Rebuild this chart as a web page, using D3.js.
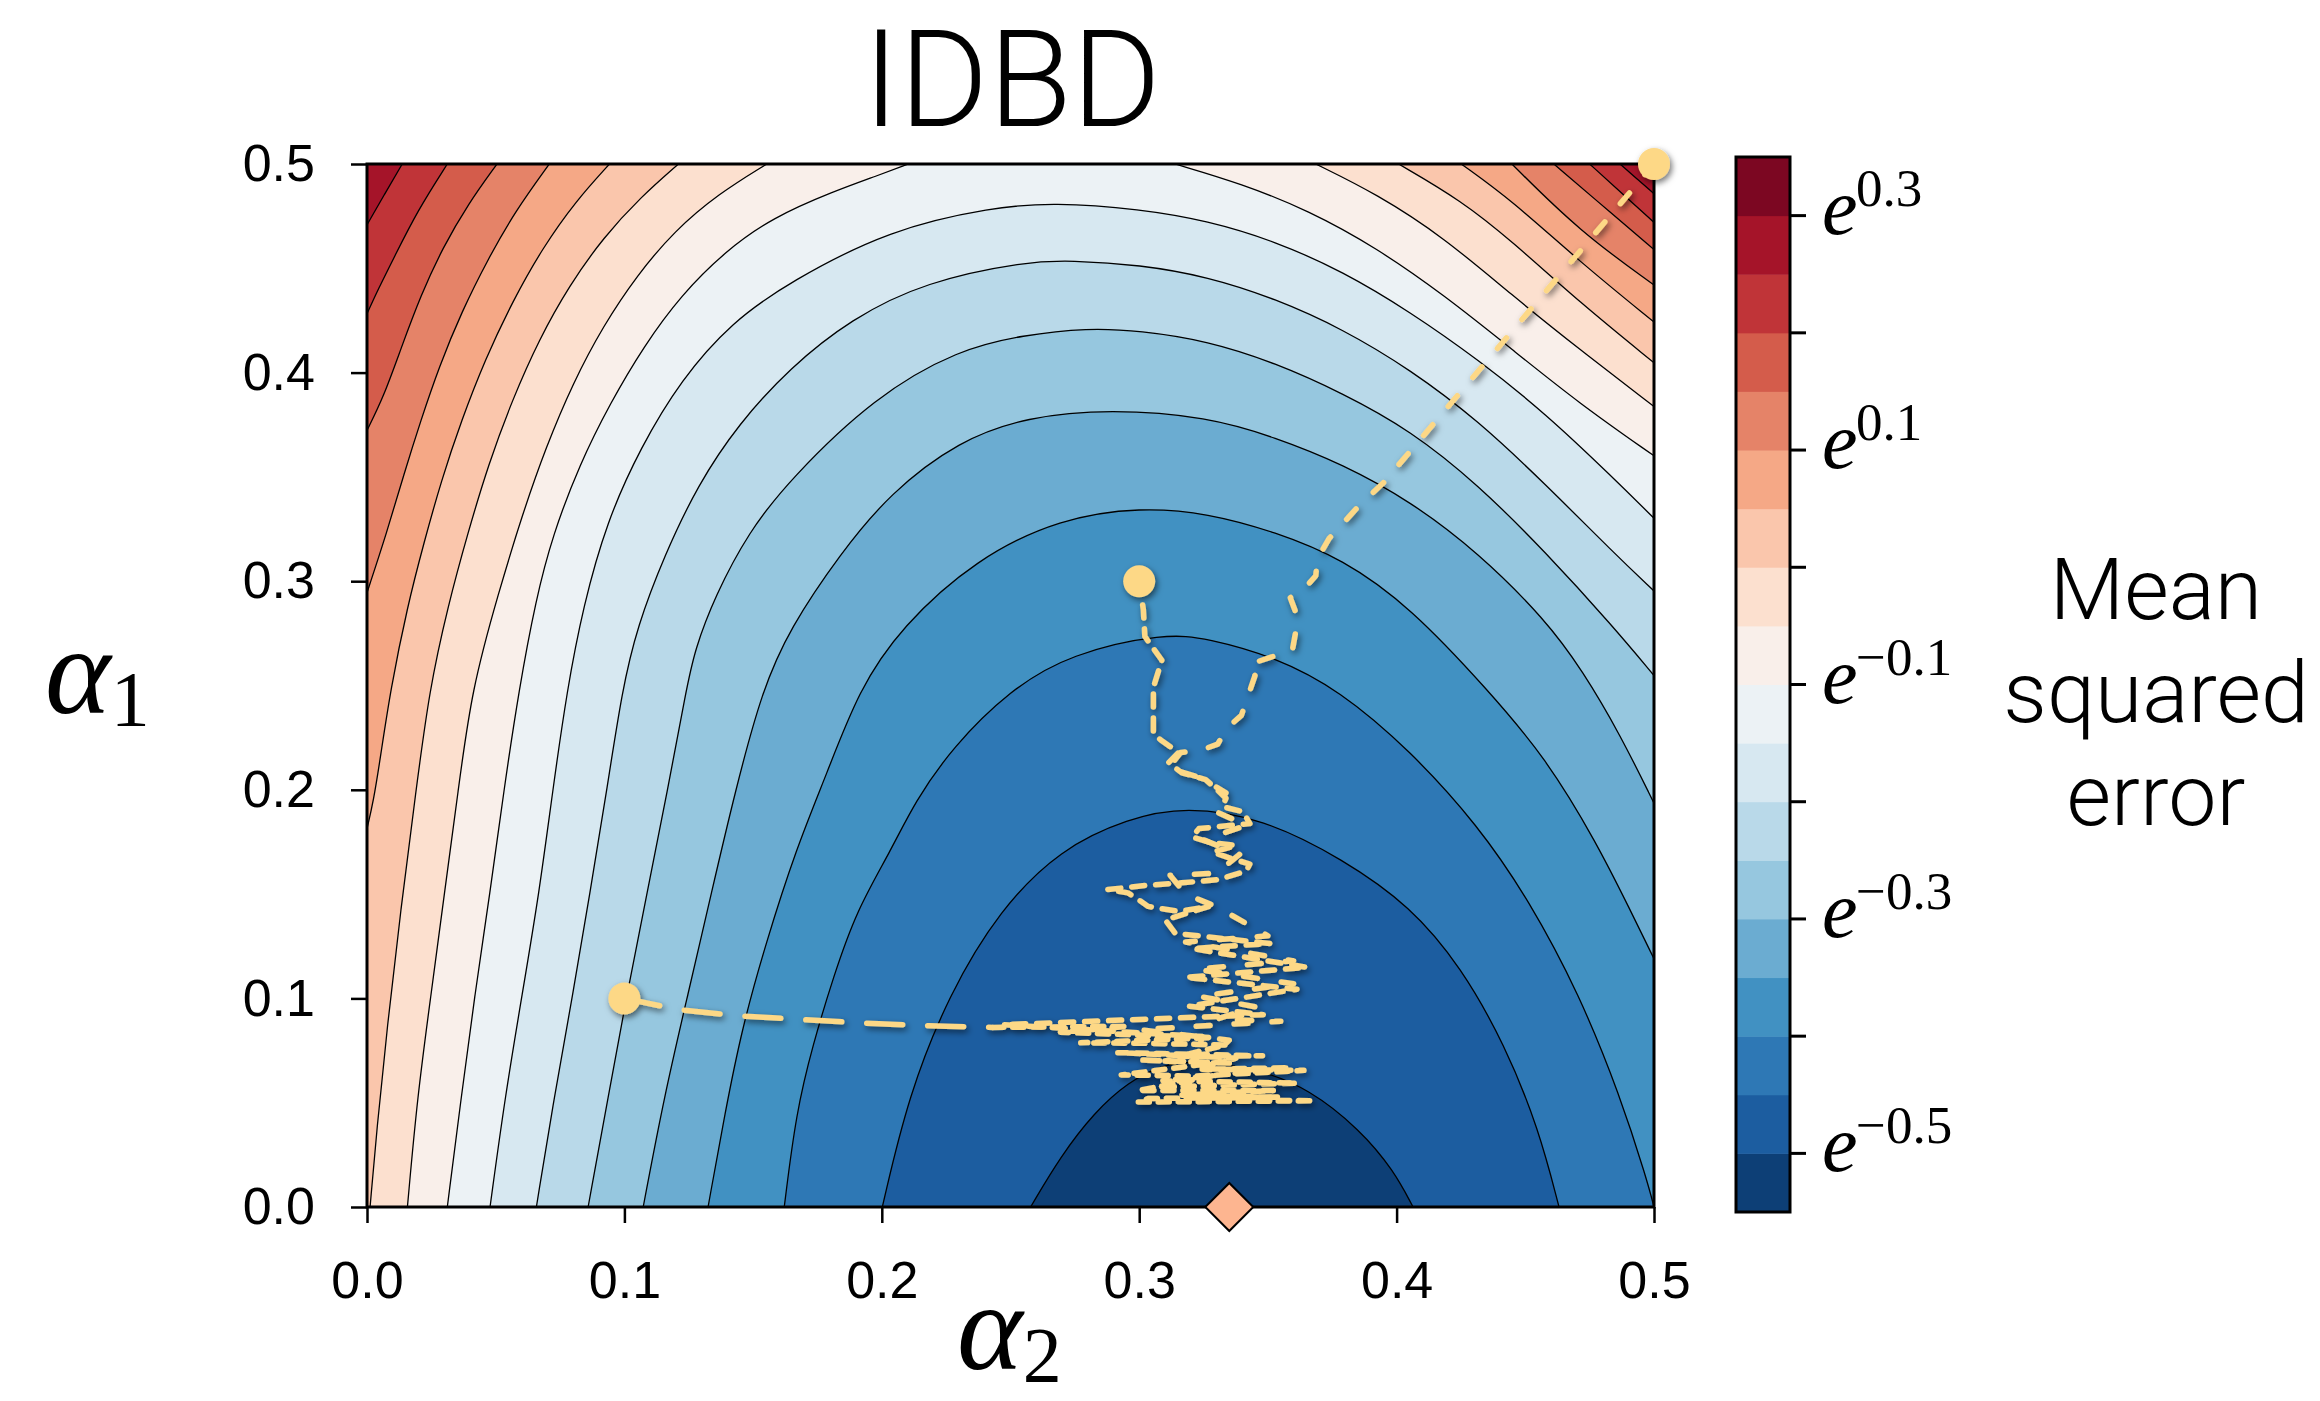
<!DOCTYPE html>
<html lang="en"><head>
<meta charset="utf-8">
<title>IDBD</title>
<script src="https://cdn.jsdelivr.net/npm/d3@7"></script>
<style>
  body { margin: 0; background: #fff; }
</style>
</head>
<body>
<script>
// ---- data: axes ----
var alphaTicks = [0, 0.1, 0.2, 0.3, 0.4, 0.5];

// ---- data: colour levels of the filled contour (log of MSE) ----
var bandEdges = [-0.55, -0.5, -0.45, -0.4, -0.35, -0.3, -0.25, -0.2, -0.15, -0.1,
                 -0.05, 0, 0.05, 0.1, 0.15, 0.2, 0.25, 0.3, 0.35];
var cbarTicks = [-0.5, -0.4, -0.3, -0.2, -0.1, 0, 0.1, 0.2, 0.3];
var cbarLabelled = [-0.5, -0.3, -0.1, 0.1, 0.3];

// ---- data: contour lines, [alpha2, alpha1] ----
var lvl025Left  = [[0,0.4708],[0.0068,0.4855],[0.0137,0.5]];
var lvl025Right = [[0.4868,0.5],[0.4935,0.4928],[0.5,0.4857]];
var lvl020Left  = [[0,0.4282],[0.0045,0.4404],[0.0104,0.4549],[0.0196,0.4776],[0.0312,0.5]];
var lvl020Right = [[0.475,0.5],[0.4875,0.486],[0.5,0.472]];
var lvl015Left  = [[0,0.3723],[0.0065,0.3885],[0.0131,0.4112],[0.0209,0.4371],[0.0294,0.4598],[0.0393,0.4809],[0.0505,0.5]];
var lvl015Right = [[0.4611,0.5],[0.4841,0.4757],[0.5,0.459]];
var lvl010Left  = [[0,0.2945],[0.0078,0.3237],[0.0143,0.3512],[0.0209,0.3771],[0.0281,0.4031],[0.0367,0.429],[0.0472,0.4549],[0.0577,0.4776],[0.0708,0.5]];
var lvl010Right = [[0.4448,0.5],[0.471,0.4678],[0.5,0.442]];
var lvl005Left  = [[0,0.1814],[0.0025,0.1944],[0.0052,0.2154],[0.0091,0.2478],[0.0157,0.288],[0.0222,0.3188],[0.0288,0.348],[0.0367,0.3771],[0.0459,0.4063],[0.0564,0.4338],[0.0682,0.4598],[0.0813,0.4825],[0.0942,0.5]];
var lvl005Right = [[0.4251,0.5],[0.4448,0.4825],[0.471,0.4533],[0.5,0.4242]];
var lvl000Left  = [[0.0012,0],[0.0038,0.0372],[0.0078,0.0858],[0.0131,0.1425],[0.019,0.1992],[0.0242,0.2478],[0.0314,0.288],[0.0393,0.3237],[0.0472,0.3561],[0.0564,0.3868],[0.0669,0.4161],[0.0787,0.442],[0.0918,0.4647],[0.1063,0.4841],[0.121,0.5]];
var lvl000Right = [[0.4008,0.5],[0.4251,0.4825],[0.4448,0.463],[0.471,0.4338],[0.5,0.4047]];
var lvlM005Left  = [[0.0157,0],[0.0196,0.0534],[0.0249,0.102],[0.0301,0.1506],[0.0354,0.1992],[0.0406,0.2478],[0.0511,0.2945],[0.0603,0.3318],[0.0695,0.3642],[0.08,0.395],[0.0918,0.4225],[0.105,0.4468],[0.1194,0.4679],[0.1365,0.4857],[0.1553,0.5]];
var lvlM005Right = [[0.3686,0.5],[0.3922,0.4857],[0.4185,0.4647],[0.4448,0.4371],[0.471,0.4112],[0.5,0.3837]];
var lvlM010Left  = [[0.0312,0],[0.0367,0.0534],[0.0419,0.102],[0.0478,0.1506],[0.0531,0.1992],[0.059,0.2478],[0.0656,0.2913],[0.0721,0.322],[0.0826,0.3561],[0.0944,0.3852],[0.1076,0.4128],[0.122,0.4371],[0.1391,0.4581],[0.1575,0.4743],[0.1811,0.4868],[0.1985,0.4945],[0.2103,0.5]];
var lvlM010Right = [[0.314,0.5],[0.3397,0.4906],[0.366,0.4776],[0.3922,0.4598],[0.4185,0.4371],[0.4448,0.4112],[0.471,0.3852],[0.5,0.3601]];
var lvlM015 = [[0.0478,0],[0.0537,0.0534],[0.0603,0.102],[0.0669,0.1506],[0.0721,0.1992],[0.0777,0.2478],[0.084,0.288],[0.0931,0.3285],[0.1063,0.3642],[0.122,0.3966],[0.1417,0.4242],[0.1643,0.4436],[0.2032,0.4687],[0.2431,0.4792],[0.2667,0.4816],[0.3003,0.4784],[0.3266,0.4728],[0.3528,0.463],[0.3791,0.4485],[0.4054,0.429],[0.4316,0.4063],[0.4579,0.3804],[0.4841,0.3496],[0.5,0.3302]];
var lvlM020 = [[0.0658,0],[0.0728,0.0534],[0.08,0.102],[0.0866,0.1506],[0.0931,0.1992],[0.0991,0.2478],[0.105,0.2783],[0.1155,0.3123],[0.1286,0.3464],[0.1444,0.3755],[0.1643,0.4023],[0.188,0.4257],[0.2169,0.4436],[0.2563,0.4533],[0.2733,0.4538],[0.3003,0.4517],[0.3266,0.446],[0.3528,0.4355],[0.3791,0.4209],[0.4054,0.4014],[0.4316,0.3771],[0.4579,0.3464],[0.4841,0.3139],[0.5,0.2953]];
var lvlM025 = [[0.0859,0],[0.0938,0.0534],[0.101,0.102],[0.1088,0.1506],[0.1167,0.1992],[0.124,0.2478],[0.1273,0.267],[0.1352,0.2929],[0.1483,0.3237],[0.1643,0.3488],[0.1972,0.3885],[0.23,0.4112],[0.255,0.418],[0.2799,0.4214],[0.3003,0.4201],[0.3266,0.4152],[0.3528,0.4047],[0.3791,0.3901],[0.4054,0.3723],[0.4316,0.3464],[0.4579,0.3139],[0.4841,0.2783],[0.5,0.2548]];
var lvlM030 = [[0.1073,0],[0.1155,0.0534],[0.1247,0.102],[0.1338,0.1506],[0.143,0.1992],[0.1535,0.2478],[0.1643,0.2775],[0.1838,0.3131],[0.2032,0.3423],[0.23,0.3674],[0.2563,0.3788],[0.289,0.3825],[0.3266,0.3788],[0.3528,0.369],[0.3791,0.3561],[0.4054,0.3383],[0.4316,0.3139],[0.4579,0.2815],[0.4723,0.257],[0.4868,0.2266],[0.5,0.1936]];
var lvlM035 = [[0.1325,0],[0.1391,0.0453],[0.1457,0.0858],[0.1549,0.1263],[0.1667,0.1717],[0.1785,0.2073],[0.191,0.2478],[0.2077,0.2783],[0.2366,0.3107],[0.2694,0.3302],[0.3009,0.3355],[0.3266,0.3326],[0.3528,0.3237],[0.3791,0.3107],[0.4054,0.2875],[0.4355,0.2478],[0.4579,0.2154],[0.4776,0.1749],[0.4907,0.1425],[0.5,0.119]];
var lvlM040 = [[0.1621,0],[0.1667,0.0453],[0.1732,0.0777],[0.1811,0.1101],[0.1903,0.1425],[0.2032,0.1701],[0.2129,0.1944],[0.2274,0.2203],[0.2497,0.2478],[0.2733,0.2653],[0.3101,0.2751],[0.3266,0.2726],[0.3528,0.2637],[0.3778,0.2478],[0.4054,0.2187],[0.4316,0.183],[0.4513,0.1474],[0.471,0.102],[0.4868,0.0534],[0.4973,0.0129],[0.5,0]];
var lvlM045 = [[0.2002,0],[0.2103,0.0534],[0.2261,0.102],[0.2458,0.1425],[0.2694,0.1717],[0.2957,0.1863],[0.318,0.192],[0.3482,0.1863],[0.3791,0.1668],[0.4054,0.1442],[0.4251,0.115],[0.4421,0.0777],[0.4553,0.0372],[0.4631,0]];
var lvlM050 = [[0.2578,0],[0.2694,0.0242],[0.2825,0.0453],[0.2957,0.0599],[0.3088,0.068],[0.3206,0.0704],[0.3463,0.0663],[0.366,0.0566],[0.3857,0.0372],[0.3988,0.0177],[0.4064,0]];

// ---- data: IDBD step-size trajectories, [alpha2, alpha1] ----
var startPoints = [[0.1,0.1],[0.3,0.3],[0.5,0.5]];
var optimum = [[0.335,0]];
var pathFrom01a = [[0.1,0.1],[0.1207,0.0947],[0.1439,0.0917],[0.1693,0.0898],[0.194,0.0881],[0.2182,0.0869],[0.2431,0.0861]];
var pathFrom01b = [[0.2431,0.0861],[0.2956,0.0866],[0.2694,0.0838],[0.3285,0.0812],[0.2773,0.0787],[0.3003,0.0785],[0.3337,0.0777],[0.3153,0.0722],[0.3479,0.0725],[0.2917,0.074],[0.3376,0.0714],[0.3337,0.0698],[0.293,0.0633],[0.3219,0.0628],[0.364,0.0655],[0.3245,0.066],[0.3585,0.0668],[0.3092,0.0605],[0.3612,0.0594],[0.3073,0.0574],[0.3337,0.0642],[0.2996,0.0558],[0.3521,0.0558],[0.3166,0.0536],[0.3542,0.0527],[0.3034,0.052],[0.2996,0.0503],[0.3679,0.0509],[0.3245,0.0517]];
var pathFrom03 = [[0.3,0.3],[0.3016,0.2864],[0.3022,0.2735],[0.3088,0.2621],[0.3055,0.2491],[0.3055,0.2268],[0.3088,0.2235],[0.3153,0.2179],[0.3114,0.213],[0.3166,0.2081],[0.3258,0.2049],[0.331,0.1992],[0.3337,0.196],[0.3324,0.1919],[0.3403,0.1895],[0.343,0.1838],[0.3232,0.1814],[0.3206,0.1774],[0.3271,0.1749],[0.3377,0.1733],[0.3285,0.1701],[0.3364,0.1668],[0.343,0.1644],[0.3416,0.1611],[0.331,0.157],[0.3166,0.1554],[0.3022,0.1541],[0.2878,0.1522],[0.2956,0.1506],[0.2996,0.1474],[0.3035,0.1441],[0.3153,0.1417],[0.3271,0.1441],[0.3101,0.1376],[0.314,0.1312],[0.3508,0.1263],[0.3206,0.1239],[0.3652,0.1149],[0.3179,0.1101],[0.3613,0.1044],[0.3193,0.0963],[0.3482,0.0922],[0.2471,0.0874],[0.3245,0.0817],[0.3219,0.0696],[0.3,0.0705],[0.335,0.069]];
var pathFrom05 = [[0.5,0.5],[0.3949,0.3472],[0.3857,0.3366],[0.3738,0.3205],[0.3692,0.3107],[0.3686,0.3026],[0.3646,0.297],[0.3587,0.2921],[0.3614,0.2832],[0.3607,0.2751],[0.3594,0.2662],[0.3515,0.2637],[0.3437,0.2605],[0.3423,0.2581],[0.345,0.2548],[0.3397,0.2357],[0.3338,0.2292],[0.3305,0.2219],[0.3233,0.2187],[0.3161,0.2179],[0.3114,0.2105],[0.3245,0.2055],[0.3337,0.1985],[0.329,0.19],[0.3416,0.183],[0.325,0.176],[0.339,0.169],[0.33,0.16],[0.312,0.159],[0.318,0.15],[0.33,0.144],[0.35,0.13],[0.318,0.127],[0.36,0.118],[0.322,0.114],[0.36,0.107],[0.323,0.101],[0.345,0.096],[0.33,0.09],[0.355,0.089],[0.3,0.085],[0.335,0.08],[0.33,0.074],[0.31,0.07],[0.33,0.068]];

// ---- styles ----
var brewerRdBu = ["#053061","#2166ac","#4393c3","#92c5de","#d1e5f0","#f7f7f7",
                  "#fddbc7","#f4a582","#d6604d","#b2182b","#67001f"];
var trajColor = "#fdd886";
var sansFont = "'Liberation Sans', Arimo, Helvetica, sans-serif";
var lightFont = "Roboto, 'Liberation Sans', sans-serif";
var mathFont = "'Liberation Serif', 'DejaVu Serif', serif";

var width = 2320, height = 1401;
var svg = d3.select("body").append("svg")
    .attr("width", width)
    .attr("height", height);

var x = d3.scaleLinear().domain([0, 0.5]).range([367, 1654]);
var y = d3.scaleLinear().domain([0, 0.5]).range([1207, 164]);

var cmap = d3.piecewise(d3.interpolateRgb, brewerRdBu);
var lo = bandEdges[0], hi = bandEdges[bandEdges.length - 1];
function bandColor(v) { return cmap((v - lo) / (hi - lo)); }

var defs = svg.append("defs");
defs.append("clipPath").attr("id", "plotClip")
  .append("rect")
    .attr("x", x(0)).attr("y", y(0.5))
    .attr("width", x(0.5) - x(0)).attr("height", y(0) - y(0.5));
var shadow = defs.append("filter").attr("id", "shadow")
    .attr("x", "-10%").attr("y", "-10%").attr("width", "120%").attr("height", "120%");
shadow.append("feDropShadow")
    .attr("dx", 2).attr("dy", 3).attr("stdDeviation", 3)
    .attr("flood-color", "#000").attr("flood-opacity", 0.55);

// contour table built from the arrays above
var contours = [
  {level: 0.25,  pieces: [lvl025Left, lvl025Right]},
  {level: 0.2,   pieces: [lvl020Left, lvl020Right]},
  {level: 0.15,  pieces: [lvl015Left, lvl015Right]},
  {level: 0.1,   pieces: [lvl010Left, lvl010Right]},
  {level: 0.05,  pieces: [lvl005Left, lvl005Right]},
  {level: 0,     pieces: [lvl000Left, lvl000Right]},
  {level: -0.05, pieces: [lvlM005Left, lvlM005Right]},
  {level: -0.1,  pieces: [lvlM010Left, lvlM010Right]},
  {level: -0.15, pieces: [lvlM015]},
  {level: -0.2,  pieces: [lvlM020]},
  {level: -0.25, pieces: [lvlM025]},
  {level: -0.3,  pieces: [lvlM030]},
  {level: -0.35, pieces: [lvlM035]},
  {level: -0.4,  pieces: [lvlM040]},
  {level: -0.45, pieces: [lvlM045]},
  {level: -0.5,  pieces: [lvlM050]}
];

var smooth = d3.line()
    .x(function(d) { return x(d[0]); })
    .y(function(d) { return y(d[1]); })
    .curve(d3.curveBasis);

var plot = svg.append("g").attr("clip-path", "url(#plotClip)");

// band above the highest line
plot.append("rect")
    .attr("x", x(0)).attr("y", y(0.5))
    .attr("width", x(0.5) - x(0)).attr("height", y(0) - y(0.5))
    .attr("fill", bandColor(0.275));

// each level: paint the region below it with the colour of the band under it
contours.forEach(function(c) {
  var d = smooth(c.pieces[0]);
  for (var k = 1; k < c.pieces.length; k++) d += smooth(c.pieces[k]).replace(/^M/, "L");
  var first = c.pieces[0][0];
  var lastPiece = c.pieces[c.pieces.length - 1];
  var last = lastPiece[lastPiece.length - 1];
  if (last[0] >= 0.5 && last[1] > 0) d += "L" + x(0.5) + "," + y(0);
  if (first[0] <= 0 && first[1] > 0) d += "L" + x(0) + "," + y(0);
  d += "Z";
  plot.append("path").attr("d", d).attr("fill", bandColor(c.level - 0.025));
});

contours.forEach(function(c) {
  c.pieces.forEach(function(p) {
    plot.append("path")
        .attr("d", smooth(p))
        .attr("fill", "none")
        .attr("stroke", "#000")
        .attr("stroke-width", 1.3);
  });
});

// frame
svg.append("rect")
    .attr("x", x(0)).attr("y", y(0.5))
    .attr("width", x(0.5) - x(0)).attr("height", y(0) - y(0.5))
    .attr("fill", "none").attr("stroke", "#000").attr("stroke-width", 3);

// axes
var fmt = d3.format(".1f");
var xAxis = svg.append("g")
    .attr("transform", "translate(0," + y(0) + ")")
    .call(d3.axisBottom(x).tickValues(alphaTicks).tickFormat(fmt).tickSize(16).tickPadding(38));
var yAxis = svg.append("g")
    .attr("transform", "translate(" + x(0) + ",0)")
    .call(d3.axisLeft(y).tickValues(alphaTicks).tickFormat(fmt).tickSize(16).tickPadding(36));
[xAxis, yAxis].forEach(function(g) {
  g.select(".domain").remove();
  g.selectAll(".tick line").attr("stroke", "#000").attr("stroke-width", 2.5);
  g.selectAll(".tick text")
      .attr("fill", "#000")
      .attr("font-family", sansFont)
      .attr("font-size", 52);
});

// trajectories
var straight = d3.line()
    .x(function(d) { return x(d[0]); })
    .y(function(d) { return y(d[1]); });
var traj = svg.append("g").attr("filter", "url(#shadow)");
var trajSpecs = [
  {pts: pathFrom01a, dash: "36,25"},
  {pts: pathFrom01b, dash: "11,9"},
  {pts: pathFrom03,  dash: "13,11"},
  {pts: pathFrom05,  dash: "14,24"}
];
trajSpecs.forEach(function(t) {
  traj.append("path")
      .attr("d", straight(t.pts))
      .attr("fill", "none")
      .attr("stroke", trajColor)
      .attr("stroke-width", 5.5)
      .attr("stroke-linecap", "round")
      .attr("stroke-linejoin", "round")
      .attr("stroke-dasharray", t.dash);
});
traj.selectAll("circle")
    .data(startPoints)
    .enter().append("circle")
    .attr("cx", function(d) { return x(d[0]); })
    .attr("cy", function(d) { return y(d[1]); })
    .attr("r", 16)
    .attr("fill", trajColor);

// optimum marker
svg.selectAll(".opt")
    .data(optimum)
    .enter().append("path")
    .attr("class", "opt")
    .attr("d", d3.symbol(d3.symbolSquare, 1150))
    .attr("transform", function(d) { return "translate(" + x(d[0]) + "," + y(d[1]) + ") rotate(45)"; })
    .attr("fill", "#fdb590")
    .attr("stroke", "#000")
    .attr("stroke-width", 2);

// title and axis labels
svg.append("text")
    .attr("x", 1012).attr("y", 126)
    .attr("text-anchor", "middle")
    .attr("font-family", lightFont).attr("font-weight", 300)
    .attr("font-size", 136)
    .text("IDBD");

function alphaLabel(xa, ya, sub, dySub) {
  var t = svg.append("text")
      .attr("x", xa).attr("y", ya)
      .attr("font-family", mathFont);
  t.append("tspan").attr("font-style", "italic").attr("font-size", 125).text("\u03b1");
  t.append("tspan").attr("font-size", 78).attr("dy", dySub).text(sub);
}
alphaLabel(45, 713, "1", 12);
alphaLabel(957, 1369, "2", 12);

// colour bar
var cb = {x: 1736, w: 54};
var cbY = d3.scaleLinear().domain([lo, hi]).range([1212, 157]);
var cbar = svg.append("g");
cbar.selectAll("rect.band")
    .data(d3.pairs(bandEdges))
    .enter().append("rect")
    .attr("class", "band")
    .attr("x", cb.x).attr("width", cb.w)
    .attr("y", function(d) { return cbY(d[1]); })
    .attr("height", function(d) { return cbY(d[0]) - cbY(d[1]) + 0.5; })
    .attr("fill", function(d) { return bandColor((d[0] + d[1]) / 2); });
cbar.append("rect")
    .attr("x", cb.x).attr("y", cbY(hi))
    .attr("width", cb.w).attr("height", cbY(lo) - cbY(hi))
    .attr("fill", "none").attr("stroke", "#000").attr("stroke-width", 3);
cbar.selectAll("line.tick")
    .data(cbarTicks)
    .enter().append("line")
    .attr("class", "tick")
    .attr("x1", cb.x + cb.w).attr("x2", cb.x + cb.w + 16)
    .attr("y1", function(d) { return cbY(d); })
    .attr("y2", function(d) { return cbY(d); })
    .attr("stroke", "#000").attr("stroke-width", 3);
cbarLabelled.forEach(function(v) {
  svg.append("text")
      .attr("x", 1822).attr("y", cbY(v) + 18)
      .attr("font-family", mathFont).attr("font-style", "italic")
      .attr("font-size", 80)
      .text("e");
  svg.append("text")
      .attr("x", 1856).attr("y", cbY(v) - 10)
      .attr("font-family", mathFont)
      .attr("font-size", 53)
      .text(fmt(v));
});

var cbTitle = svg.append("text")
    .attr("x", 2156).attr("y", 619)
    .attr("text-anchor", "middle")
    .attr("font-family", lightFont).attr("font-weight", 300)
    .attr("font-size", 86);
["Mean", "squared", "error"].forEach(function(w, i) {
  cbTitle.append("tspan").attr("x", 2156).attr("dy", i === 0 ? 0 : 103).text(w);
});
</script>
</body>
</html>
